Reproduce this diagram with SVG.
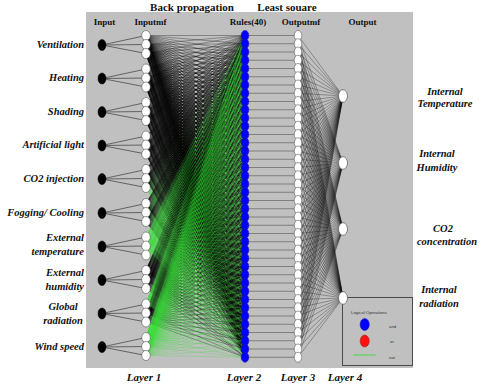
<svg xmlns="http://www.w3.org/2000/svg" width="480" height="388" viewBox="0 0 480 388">
<style>
text{font-family:"Liberation Serif","Times New Roman","DejaVu Serif",serif}
.hdr{font-weight:bold;font-size:9px;fill:#111;text-anchor:middle}
.top{font-weight:bold;font-size:11px;fill:#111;text-anchor:middle}
.lbl{font-weight:bold;font-style:italic;font-size:10.5px;fill:#111;text-anchor:end}
.lblc{font-weight:bold;font-style:italic;font-size:10.5px;fill:#111;text-anchor:middle}
.lay{font-weight:bold;font-style:italic;font-size:11px;fill:#111;text-anchor:middle}
text.leg{font-family:"Liberation Sans",Arial,"DejaVu Sans",sans-serif;font-size:4.3px;fill:#333}
.inp{fill:#000;stroke:#000;stroke-width:0.5}
.mf{fill:#fff;stroke:#555;stroke-width:0.6}
.rule{fill:#0000ff;stroke:#1a1a9a;stroke-width:0.6}
.omf{fill:#fff;stroke:#555;stroke-width:0.6}
.out{fill:#fff;stroke:#555;stroke-width:0.7}
.fan{fill:none;vector-effect:non-scaling-stroke}
.dk{stroke:#000;stroke-width:0.4;stroke-opacity:0.8}
.gr{stroke:#2ee02e;stroke-width:0.4;stroke-opacity:0.65}
.ofan{stroke:#111;stroke-width:0.4;stroke-opacity:0.8}
.cin{fill:none;stroke:#4a4a4a;stroke-width:0.8}
.crl{fill:none;stroke:#7f7f7f;stroke-width:1}
</style>
<defs>
<path id="F" class="fan" d="M0 0L99 0M0 0L99 8.25M0 0L99 16.5M0 0L99 24.75M0 0L99 33M0 0L99 41.25M0 0L99 49.5M0 0L99 57.75M0 0L99 66M0 0L99 74.25M0 0L99 82.5M0 0L99 90.75M0 0L99 99M0 0L99 107.25M0 0L99 115.5M0 0L99 123.75M0 0L99 132M0 0L99 140.25M0 0L99 148.5M0 0L99 156.75M0 0L99 165M0 0L99 173.25M0 0L99 181.5M0 0L99 189.75M0 0L99 198M0 0L99 206.25M0 0L99 214.5M0 0L99 222.75M0 0L99 231M0 0L99 239.25M0 0L99 247.5M0 0L99 255.75M0 0L99 264M0 0L99 272.25M0 0L99 280.5M0 0L99 288.75M0 0L99 297M0 0L99 305.25M0 0L99 313.5M0 0L99 321.75"/>
<path id="G" class="fan" d="M0 0L45 0M0 0L45 8.25M0 0L45 16.5M0 0L45 24.75M0 0L45 33M0 0L45 41.25M0 0L45 49.5M0 0L45 57.75M0 0L45 66M0 0L45 74.25M0 0L45 82.5M0 0L45 90.75M0 0L45 99M0 0L45 107.25M0 0L45 115.5M0 0L45 123.75M0 0L45 132M0 0L45 140.25M0 0L45 148.5M0 0L45 156.75M0 0L45 165M0 0L45 173.25M0 0L45 181.5M0 0L45 189.75M0 0L45 198M0 0L45 206.25M0 0L45 214.5M0 0L45 222.75M0 0L45 231M0 0L45 239.25M0 0L45 247.5M0 0L45 255.75M0 0L45 264M0 0L45 272.25M0 0L45 280.5M0 0L45 288.75M0 0L45 297M0 0L45 305.25M0 0L45 313.5M0 0L45 321.75"/>
</defs>

<rect id="panel" x="86" y="12" width="327" height="356" fill="#c0c0c0"/>

<text class="top" x="192" y="10.5">Back propagation</text>
<text class="top" x="287" y="10.5">Least souare</text>
<text class="hdr" x="104.5" y="25">Input</text>
<text class="hdr" x="150.5" y="25">Inputmf</text>
<text class="hdr" x="248" y="25">Rules(40)</text>
<text class="hdr" x="301" y="25">Outputmf</text>
<text class="hdr" x="362.5" y="25">Output</text>

<g id="legend">
<rect x="342.5" y="297.5" width="70" height="68" fill="#c0c0c0" stroke="#4a4a4a" stroke-width="1"/>
<text class="leg" x="351" y="313.5">Logical Operations</text>
<ellipse cx="364.7" cy="324.5" rx="4.6" ry="6" fill="#0000ff" stroke="#1a1a9a" stroke-width="0.5"/>
<text class="leg" x="389" y="327.5">and</text>
<ellipse cx="364.7" cy="341" rx="4.6" ry="6" fill="#ff1010" stroke="#9a1a1a" stroke-width="0.5"/>
<text class="leg" x="390" y="343">or</text>
<line x1="353.3" y1="355" x2="375.7" y2="355" stroke="#22e022" stroke-width="0.8"/>
<text class="leg" x="389" y="358.5">not</text>
</g>

<g id="connectors">
<path class="cin" d="M146 35.5L102 45L146 44.5M102 45L146 53.5M146 69L102 78.5L146 78M102 78.5L146 87M146 102.5L102 112L146 111.5M102 112L146 120.5M146 136L102 145.5L146 145M102 145.5L146 154M146 169.5L102 179L146 178.5M102 179L146 187.5M146 203.5L102 213L146 212.5M102 213L146 221.5M146 237L102 246.5L146 246M102 246.5L146 255M146 270.5L102 280L146 279.5M102 280L146 288.5M146 304L102 313.5L146 313M102 313.5L146 322M146 337.5L102 347L146 346.5M102 347L146 355.5"/>
<g class="gr">
<use href="#F" transform="matrix(1 -1.5354 0 1 146 187.5)"/>
<use href="#F" transform="matrix(1 -1.7879 0 1 146 212.5)"/>
<use href="#F" transform="matrix(1 -2.2172 0 1 146 255)"/>
</g>
<g class="dk">
<use href="#F" transform="matrix(1 0 0 1 146 35.5)"/>
<use href="#F" transform="matrix(1 -0.0909 0 1 146 44.5)"/>
<use href="#F" transform="matrix(1 -0.1818 0 1 146 53.5)"/>
<use href="#F" transform="matrix(1 -0.3384 0 1 146 69)"/>
<use href="#F" transform="matrix(1 -0.4293 0 1 146 78)"/>
<use href="#F" transform="matrix(1 -0.5202 0 1 146 87)"/>
<use href="#F" transform="matrix(1 -0.6768 0 1 146 102.5)"/>
<use href="#F" transform="matrix(1 -0.7677 0 1 146 111.5)"/>
<use href="#F" transform="matrix(1 -0.8586 0 1 146 120.5)"/>
<use href="#F" transform="matrix(1 -1.0152 0 1 146 136)"/>
<use href="#F" transform="matrix(1 -1.1061 0 1 146 145)"/>
<use href="#F" transform="matrix(1 -1.1970 0 1 146 154)"/>
<use href="#F" transform="matrix(1 -1.3535 0 1 146 169.5)"/>
<use href="#F" transform="matrix(1 -1.4444 0 1 146 178.5)"/>
<use href="#F" transform="matrix(1 -1.6970 0 1 146 203.5)"/>
<use href="#F" transform="matrix(1 -1.8788 0 1 146 221.5)"/>
<use href="#F" transform="matrix(1 -2.3737 0 1 146 270.5)"/>
<use href="#F" transform="matrix(1 -2.4646 0 1 146 279.5)"/>
<use href="#F" transform="matrix(1 -2.5556 0 1 146 288.5)"/>
<use href="#F" transform="matrix(1 -2.8030 0 1 146 313)"/>
<use href="#F" transform="matrix(1 -2.8939 0 1 146 322)"/>
</g>
<g class="gr">
<use href="#F" transform="matrix(1 -2.0354 0 1 146 237)"/>
<use href="#F" transform="matrix(1 -2.1263 0 1 146 246)"/>
<use href="#F" transform="matrix(1 -2.7121 0 1 146 304)"/>
<use href="#F" transform="matrix(1 -3.0505 0 1 146 337.5)"/>
<use href="#F" transform="matrix(1 -3.1414 0 1 146 346.5)"/>
<use href="#F" transform="matrix(1 -3.2323 0 1 146 355.5)"/>
</g>
<path class="crl" d="M245 35.5h53M245 43.75h53M245 52h53M245 60.25h53M245 68.5h53M245 76.75h53M245 85h53M245 93.25h53M245 101.5h53M245 109.75h53M245 118h53M245 126.25h53M245 134.5h53M245 142.75h53M245 151h53M245 159.25h53M245 167.5h53M245 175.75h53M245 184h53M245 192.25h53M245 200.5h53M245 208.75h53M245 217h53M245 225.25h53M245 233.5h53M245 241.75h53M245 250h53M245 258.25h53M245 266.5h53M245 274.75h53M245 283h53M245 291.25h53M245 299.5h53M245 307.75h53M245 316h53M245 324.25h53M245 332.5h53M245 340.75h53M245 349h53M245 357.25h53"/>
<g class="ofan">
<use href="#G" transform="matrix(-1 -1.3444 0 1 343 96)"/>
<use href="#G" transform="matrix(-1 -2.8333 0 1 343 163)"/>
<use href="#G" transform="matrix(-1 -4.3 0 1 343 229)"/>
<use href="#G" transform="matrix(-1 -5.8333 0 1 343 298)"/>
</g>
</g>

<g id="in1"><text class="lbl" x="84" y="48">Ventilation</text><ellipse class="inp" cx="102" cy="45" rx="4" ry="5.5"/></g>
<g id="in2"><text class="lbl" x="84" y="81">Heating</text><ellipse class="inp" cx="102" cy="78.5" rx="4" ry="5.5"/></g>
<g id="in3"><text class="lbl" x="84" y="114.5">Shading</text><ellipse class="inp" cx="102" cy="112" rx="4" ry="5.5"/></g>
<g id="in4"><text class="lbl" x="84" y="148">Artificial light</text><ellipse class="inp" cx="102" cy="145.5" rx="4" ry="5.5"/></g>
<g id="in5"><text class="lbl" x="84" y="181.5">CO2 injection</text><ellipse class="inp" cx="102" cy="179" rx="4" ry="5.5"/></g>
<g id="in6"><text class="lbl" x="84" y="215.5">Fogging/ Cooling</text><ellipse class="inp" cx="102" cy="213" rx="4" ry="5.5"/></g>
<g id="in7"><text class="lbl" x="84" y="240.5">External</text><text class="lbl" x="84" y="254.5">temperature</text><ellipse class="inp" cx="102" cy="246.5" rx="4" ry="5.5"/></g>
<g id="in8"><text class="lbl" x="84" y="276">External</text><text class="lbl" x="84" y="290">humidity</text><ellipse class="inp" cx="102" cy="280" rx="4" ry="5.5"/></g>
<g id="in9"><text class="lblc" x="63" y="310">Global</text><text class="lblc" x="63" y="324">radiation</text><ellipse class="inp" cx="102" cy="313.5" rx="4" ry="5.5"/></g>
<g id="in10"><text class="lbl" x="84" y="349.5">Wind speed</text><ellipse class="inp" cx="102" cy="347" rx="4" ry="5.5"/></g>

<g id="layer1">
<g id="mf1_1"><ellipse class="mf" cx="146" cy="35.5" rx="4.3" ry="5"/></g>
<g id="mf1_2"><ellipse class="mf" cx="146" cy="44.5" rx="4.3" ry="5"/></g>
<g id="mf1_3"><ellipse class="mf" cx="146" cy="53.5" rx="4.3" ry="5"/></g>
<g id="mf2_1"><ellipse class="mf" cx="146" cy="69" rx="4.3" ry="5"/></g>
<g id="mf2_2"><ellipse class="mf" cx="146" cy="78" rx="4.3" ry="5"/></g>
<g id="mf2_3"><ellipse class="mf" cx="146" cy="87" rx="4.3" ry="5"/></g>
<g id="mf3_1"><ellipse class="mf" cx="146" cy="102.5" rx="4.3" ry="5"/></g>
<g id="mf3_2"><ellipse class="mf" cx="146" cy="111.5" rx="4.3" ry="5"/></g>
<g id="mf3_3"><ellipse class="mf" cx="146" cy="120.5" rx="4.3" ry="5"/></g>
<g id="mf4_1"><ellipse class="mf" cx="146" cy="136" rx="4.3" ry="5"/></g>
<g id="mf4_2"><ellipse class="mf" cx="146" cy="145" rx="4.3" ry="5"/></g>
<g id="mf4_3"><ellipse class="mf" cx="146" cy="154" rx="4.3" ry="5"/></g>
<g id="mf5_1"><ellipse class="mf" cx="146" cy="169.5" rx="4.3" ry="5"/></g>
<g id="mf5_2"><ellipse class="mf" cx="146" cy="178.5" rx="4.3" ry="5"/></g>
<g id="mf5_3"><ellipse class="mf" cx="146" cy="187.5" rx="4.3" ry="5"/></g>
<g id="mf6_1"><ellipse class="mf" cx="146" cy="203.5" rx="4.3" ry="5"/></g>
<g id="mf6_2"><ellipse class="mf" cx="146" cy="212.5" rx="4.3" ry="5"/></g>
<g id="mf6_3"><ellipse class="mf" cx="146" cy="221.5" rx="4.3" ry="5"/></g>
<g id="mf7_1"><ellipse class="mf" cx="146" cy="237" rx="4.3" ry="5"/></g>
<g id="mf7_2"><ellipse class="mf" cx="146" cy="246" rx="4.3" ry="5"/></g>
<g id="mf7_3"><ellipse class="mf" cx="146" cy="255" rx="4.3" ry="5"/></g>
<g id="mf8_1"><ellipse class="mf" cx="146" cy="270.5" rx="4.3" ry="5"/></g>
<g id="mf8_2"><ellipse class="mf" cx="146" cy="279.5" rx="4.3" ry="5"/></g>
<g id="mf8_3"><ellipse class="mf" cx="146" cy="288.5" rx="4.3" ry="5"/></g>
<g id="mf9_1"><ellipse class="mf" cx="146" cy="304" rx="4.3" ry="5"/></g>
<g id="mf9_2"><ellipse class="mf" cx="146" cy="313" rx="4.3" ry="5"/></g>
<g id="mf9_3"><ellipse class="mf" cx="146" cy="322" rx="4.3" ry="5"/></g>
<g id="mf10_1"><ellipse class="mf" cx="146" cy="337.5" rx="4.3" ry="5"/></g>
<g id="mf10_2"><ellipse class="mf" cx="146" cy="346.5" rx="4.3" ry="5"/></g>
<g id="mf10_3"><ellipse class="mf" cx="146" cy="355.5" rx="4.3" ry="5"/></g>
</g>

<g id="layer2">
<g id="r1"><ellipse class="rule" cx="245" cy="35.5" rx="3.8" ry="5"/></g>
<g id="r2"><ellipse class="rule" cx="245" cy="43.75" rx="3.8" ry="5"/></g>
<g id="r3"><ellipse class="rule" cx="245" cy="52" rx="3.8" ry="5"/></g>
<g id="r4"><ellipse class="rule" cx="245" cy="60.25" rx="3.8" ry="5"/></g>
<g id="r5"><ellipse class="rule" cx="245" cy="68.5" rx="3.8" ry="5"/></g>
<g id="r6"><ellipse class="rule" cx="245" cy="76.75" rx="3.8" ry="5"/></g>
<g id="r7"><ellipse class="rule" cx="245" cy="85" rx="3.8" ry="5"/></g>
<g id="r8"><ellipse class="rule" cx="245" cy="93.25" rx="3.8" ry="5"/></g>
<g id="r9"><ellipse class="rule" cx="245" cy="101.5" rx="3.8" ry="5"/></g>
<g id="r10"><ellipse class="rule" cx="245" cy="109.75" rx="3.8" ry="5"/></g>
<g id="r11"><ellipse class="rule" cx="245" cy="118" rx="3.8" ry="5"/></g>
<g id="r12"><ellipse class="rule" cx="245" cy="126.25" rx="3.8" ry="5"/></g>
<g id="r13"><ellipse class="rule" cx="245" cy="134.5" rx="3.8" ry="5"/></g>
<g id="r14"><ellipse class="rule" cx="245" cy="142.75" rx="3.8" ry="5"/></g>
<g id="r15"><ellipse class="rule" cx="245" cy="151" rx="3.8" ry="5"/></g>
<g id="r16"><ellipse class="rule" cx="245" cy="159.25" rx="3.8" ry="5"/></g>
<g id="r17"><ellipse class="rule" cx="245" cy="167.5" rx="3.8" ry="5"/></g>
<g id="r18"><ellipse class="rule" cx="245" cy="175.75" rx="3.8" ry="5"/></g>
<g id="r19"><ellipse class="rule" cx="245" cy="184" rx="3.8" ry="5"/></g>
<g id="r20"><ellipse class="rule" cx="245" cy="192.25" rx="3.8" ry="5"/></g>
<g id="r21"><ellipse class="rule" cx="245" cy="200.5" rx="3.8" ry="5"/></g>
<g id="r22"><ellipse class="rule" cx="245" cy="208.75" rx="3.8" ry="5"/></g>
<g id="r23"><ellipse class="rule" cx="245" cy="217" rx="3.8" ry="5"/></g>
<g id="r24"><ellipse class="rule" cx="245" cy="225.25" rx="3.8" ry="5"/></g>
<g id="r25"><ellipse class="rule" cx="245" cy="233.5" rx="3.8" ry="5"/></g>
<g id="r26"><ellipse class="rule" cx="245" cy="241.75" rx="3.8" ry="5"/></g>
<g id="r27"><ellipse class="rule" cx="245" cy="250" rx="3.8" ry="5"/></g>
<g id="r28"><ellipse class="rule" cx="245" cy="258.25" rx="3.8" ry="5"/></g>
<g id="r29"><ellipse class="rule" cx="245" cy="266.5" rx="3.8" ry="5"/></g>
<g id="r30"><ellipse class="rule" cx="245" cy="274.75" rx="3.8" ry="5"/></g>
<g id="r31"><ellipse class="rule" cx="245" cy="283" rx="3.8" ry="5"/></g>
<g id="r32"><ellipse class="rule" cx="245" cy="291.25" rx="3.8" ry="5"/></g>
<g id="r33"><ellipse class="rule" cx="245" cy="299.5" rx="3.8" ry="5"/></g>
<g id="r34"><ellipse class="rule" cx="245" cy="307.75" rx="3.8" ry="5"/></g>
<g id="r35"><ellipse class="rule" cx="245" cy="316" rx="3.8" ry="5"/></g>
<g id="r36"><ellipse class="rule" cx="245" cy="324.25" rx="3.8" ry="5"/></g>
<g id="r37"><ellipse class="rule" cx="245" cy="332.5" rx="3.8" ry="5"/></g>
<g id="r38"><ellipse class="rule" cx="245" cy="340.75" rx="3.8" ry="5"/></g>
<g id="r39"><ellipse class="rule" cx="245" cy="349" rx="3.8" ry="5"/></g>
<g id="r40"><ellipse class="rule" cx="245" cy="357.25" rx="3.8" ry="5"/></g>
</g>

<g id="layer3">
<g id="o1"><ellipse class="omf" cx="298" cy="35.5" rx="3.8" ry="5"/></g>
<g id="o2"><ellipse class="omf" cx="298" cy="43.75" rx="3.8" ry="5"/></g>
<g id="o3"><ellipse class="omf" cx="298" cy="52" rx="3.8" ry="5"/></g>
<g id="o4"><ellipse class="omf" cx="298" cy="60.25" rx="3.8" ry="5"/></g>
<g id="o5"><ellipse class="omf" cx="298" cy="68.5" rx="3.8" ry="5"/></g>
<g id="o6"><ellipse class="omf" cx="298" cy="76.75" rx="3.8" ry="5"/></g>
<g id="o7"><ellipse class="omf" cx="298" cy="85" rx="3.8" ry="5"/></g>
<g id="o8"><ellipse class="omf" cx="298" cy="93.25" rx="3.8" ry="5"/></g>
<g id="o9"><ellipse class="omf" cx="298" cy="101.5" rx="3.8" ry="5"/></g>
<g id="o10"><ellipse class="omf" cx="298" cy="109.75" rx="3.8" ry="5"/></g>
<g id="o11"><ellipse class="omf" cx="298" cy="118" rx="3.8" ry="5"/></g>
<g id="o12"><ellipse class="omf" cx="298" cy="126.25" rx="3.8" ry="5"/></g>
<g id="o13"><ellipse class="omf" cx="298" cy="134.5" rx="3.8" ry="5"/></g>
<g id="o14"><ellipse class="omf" cx="298" cy="142.75" rx="3.8" ry="5"/></g>
<g id="o15"><ellipse class="omf" cx="298" cy="151" rx="3.8" ry="5"/></g>
<g id="o16"><ellipse class="omf" cx="298" cy="159.25" rx="3.8" ry="5"/></g>
<g id="o17"><ellipse class="omf" cx="298" cy="167.5" rx="3.8" ry="5"/></g>
<g id="o18"><ellipse class="omf" cx="298" cy="175.75" rx="3.8" ry="5"/></g>
<g id="o19"><ellipse class="omf" cx="298" cy="184" rx="3.8" ry="5"/></g>
<g id="o20"><ellipse class="omf" cx="298" cy="192.25" rx="3.8" ry="5"/></g>
<g id="o21"><ellipse class="omf" cx="298" cy="200.5" rx="3.8" ry="5"/></g>
<g id="o22"><ellipse class="omf" cx="298" cy="208.75" rx="3.8" ry="5"/></g>
<g id="o23"><ellipse class="omf" cx="298" cy="217" rx="3.8" ry="5"/></g>
<g id="o24"><ellipse class="omf" cx="298" cy="225.25" rx="3.8" ry="5"/></g>
<g id="o25"><ellipse class="omf" cx="298" cy="233.5" rx="3.8" ry="5"/></g>
<g id="o26"><ellipse class="omf" cx="298" cy="241.75" rx="3.8" ry="5"/></g>
<g id="o27"><ellipse class="omf" cx="298" cy="250" rx="3.8" ry="5"/></g>
<g id="o28"><ellipse class="omf" cx="298" cy="258.25" rx="3.8" ry="5"/></g>
<g id="o29"><ellipse class="omf" cx="298" cy="266.5" rx="3.8" ry="5"/></g>
<g id="o30"><ellipse class="omf" cx="298" cy="274.75" rx="3.8" ry="5"/></g>
<g id="o31"><ellipse class="omf" cx="298" cy="283" rx="3.8" ry="5"/></g>
<g id="o32"><ellipse class="omf" cx="298" cy="291.25" rx="3.8" ry="5"/></g>
<g id="o33"><ellipse class="omf" cx="298" cy="299.5" rx="3.8" ry="5"/></g>
<g id="o34"><ellipse class="omf" cx="298" cy="307.75" rx="3.8" ry="5"/></g>
<g id="o35"><ellipse class="omf" cx="298" cy="316" rx="3.8" ry="5"/></g>
<g id="o36"><ellipse class="omf" cx="298" cy="324.25" rx="3.8" ry="5"/></g>
<g id="o37"><ellipse class="omf" cx="298" cy="332.5" rx="3.8" ry="5"/></g>
<g id="o38"><ellipse class="omf" cx="298" cy="340.75" rx="3.8" ry="5"/></g>
<g id="o39"><ellipse class="omf" cx="298" cy="349" rx="3.8" ry="5"/></g>
<g id="o40"><ellipse class="omf" cx="298" cy="357.25" rx="3.8" ry="5"/></g>
</g>

<g id="out1"><ellipse class="out" cx="343" cy="96" rx="4.5" ry="6.3"/><text class="lblc" x="445" y="94.5">Internal</text><text class="lblc" x="445" y="107">Temperature</text></g>
<g id="out2"><ellipse class="out" cx="343" cy="163" rx="4.5" ry="6.3"/><text class="lblc" x="437" y="157">Internal</text><text class="lblc" x="437" y="170.5">Humidity</text></g>
<g id="out3"><ellipse class="out" cx="343" cy="229" rx="4.5" ry="6.3"/><text class="lblc" x="443" y="231.5">CO2</text><text class="lblc" x="447" y="244.5">concentration</text></g>
<g id="out4"><ellipse class="out" cx="343" cy="298" rx="4.5" ry="6.3"/><text class="lblc" x="439" y="293">Internal</text><text class="lblc" x="439" y="306.5">radiation</text></g>

<text class="lay" x="144" y="381">Layer 1</text>
<text class="lay" x="244" y="381">Layer 2</text>
<text class="lay" x="298" y="381">Layer 3</text>
<text class="lay" x="345" y="381">Layer 4</text>
</svg>
